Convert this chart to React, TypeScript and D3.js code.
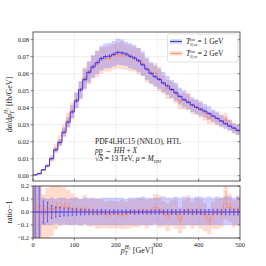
import { useEffect, useRef } from 'react'
import * as d3 from 'd3'

// bin lower edges (GeV), width 10
const binLow = [
  0, 10, 20, 30, 40, 50, 60, 70, 80, 90,
  100, 110, 120, 130, 140, 150, 160, 170, 180, 190,
  200, 210, 220, 230, 240, 250, 260, 270, 280, 290,
  300, 310, 320, 330, 340, 350, 360, 370, 380, 390,
  400, 410, 420, 430, 440, 450, 460, 470, 480, 490,
]
const binWidth = 10

// Tcut = 1 GeV central values [fb/GeV]
const blueValues = [
  0.0005, 0.0012, 0.0035, 0.0058, 0.0100, 0.0152, 0.0195, 0.0255, 0.0315, 0.0375,
  0.0440, 0.0505, 0.0565, 0.0608, 0.0640, 0.0665, 0.0688, 0.0700, 0.0703, 0.0714,
  0.0725, 0.0722, 0.0716, 0.0702, 0.0692, 0.0676, 0.0652, 0.0627, 0.0602, 0.0582,
  0.0566, 0.0545, 0.0528, 0.0507, 0.0488, 0.0466, 0.0447, 0.0432, 0.0416, 0.0402,
  0.0391, 0.0380, 0.0366, 0.0351, 0.0337, 0.0322, 0.0306, 0.0292, 0.0280, 0.0266,
]
// relative stat. errors (1 GeV)
const blueStat = [
  0.5, 0.3, 0.085, 0.075, 0.05, 0.04, 0.035, 0.03, 0.03, 0.025,
  0.025, 0.022, 0.02, 0.02, 0.02, 0.018, 0.018, 0.016, 0.016, 0.016,
  0.015, 0.015, 0.015, 0.015, 0.015, 0.015, 0.015, 0.015, 0.016, 0.016,
  0.016, 0.016, 0.017, 0.017, 0.017, 0.018, 0.018, 0.018, 0.018, 0.019,
  0.019, 0.019, 0.02, 0.02, 0.02, 0.02, 0.021, 0.021, 0.022, 0.022,
]
// relative scale band (1 GeV)
const blueUp = [
  0.6, 0.45, 0.11, 0.1, 0.11, 0.1, 0.11, 0.11, 0.1, 0.11,
  0.11, 0.1, 0.11, 0.11, 0.11, 0.1, 0.11, 0.11, 0.11, 0.11,
  0.11, 0.11, 0.1, 0.11, 0.11, 0.11, 0.12, 0.11, 0.11, 0.11,
  0.11, 0.12, 0.11, 0.11, 0.12, 0.11, 0.12, 0.11, 0.11, 0.12,
  0.12, 0.11, 0.12, 0.11, 0.12, 0.11, 0.12, 0.12, 0.11, 0.12,
]
const blueDown = [
  0.6, 0.45, 0.1, 0.1, 0.1, 0.09, 0.1, 0.1, 0.1, 0.1,
  0.1, 0.1, 0.1, 0.1, 0.1, 0.1, 0.1, 0.1, 0.1, 0.1,
  0.1, 0.1, 0.1, 0.1, 0.1, 0.1, 0.1, 0.1, 0.1, 0.1,
  0.1, 0.1, 0.1, 0.1, 0.1, 0.1, 0.1, 0.1, 0.1, 0.1,
  0.1, 0.1, 0.1, 0.1, 0.1, 0.1, 0.1, 0.1, 0.1, 0.1,
]

// Tcut = 2 GeV, ratio to the 1 GeV result minus one
const orangeRatio = [
  0.0, 0.05, -0.02, 0.03, 0.02, 0.03, 0.04, 0.045, 0.035, 0.02,
  0.015, 0.01, 0.02, 0.005, 0.0, -0.01, 0.005, -0.015, -0.02, -0.005,
  -0.02, -0.025, -0.01, 0.005, -0.005, 0.0, 0.01, -0.005, 0.005, 0.035,
  0.01, -0.005, -0.03, 0.0, -0.01, -0.06, 0.0, 0.01, -0.01, 0.005,
  -0.01, -0.02, -0.07, -0.01, 0.0, -0.01, 0.07, 0.035, 0.0, 0.015,
]
const orangeStat = [
  0.5, 0.35, 0.08, 0.06, 0.05, 0.04, 0.035, 0.03, 0.025, 0.022,
  0.02, 0.02, 0.018, 0.018, 0.016, 0.016, 0.015, 0.015, 0.015, 0.015,
  0.015, 0.015, 0.015, 0.015, 0.016, 0.016, 0.016, 0.016, 0.017, 0.02,
  0.017, 0.017, 0.018, 0.018, 0.018, 0.025, 0.018, 0.018, 0.02, 0.02,
  0.02, 0.02, 0.03, 0.02, 0.02, 0.02, 0.08, 0.03, 0.022, 0.022,
]
const orangeUp = [
  0.6, 0.45, 0.16, 0.15, 0.2, 0.2, 0.17, 0.14, 0.13, 0.12,
  0.1, 0.09, 0.11, 0.09, 0.1, 0.12, 0.09, 0.1, 0.11, 0.09,
  0.1, 0.12, 0.09, 0.09, 0.1, 0.11, 0.09, 0.1, 0.09, 0.1,
  0.12, 0.09, 0.1, 0.09, 0.11, 0.1, 0.09, 0.12, 0.09, 0.1,
  0.11, 0.09, 0.1, 0.09, 0.1, 0.12, 0.13, 0.1, 0.09, 0.11,
]
const orangeDown = [
  0.6, 0.45, 0.25, 0.24, 0.2, 0.16, 0.14, 0.13, 0.13, 0.12,
  0.11, 0.12, 0.11, 0.12, 0.11, 0.12, 0.13, 0.11, 0.11, 0.12,
  0.11, 0.11, 0.12, 0.13, 0.11, 0.12, 0.11, 0.12, 0.11, 0.12,
  0.13, 0.11, 0.12, 0.11, 0.12, 0.11, 0.13, 0.11, 0.12, 0.11,
  0.12, 0.13, 0.11, 0.12, 0.13, 0.11, 0.12, 0.11, 0.12, 0.11,
]

const xTicks = [0, 100, 200, 300, 400, 500]
const yTicks = [0.0, 0.01, 0.02, 0.03, 0.04, 0.05, 0.06, 0.07, 0.08]
const ratioTicks = [-0.2, -0.1, 0.0, 0.1, 0.2]
const legendLabels = ['1 GeV', '2 GeV']

const BLUE = '#2b2bff'
const ORANGE = '#ff8a5c'
const BLUE_FILL = 'rgba(90,90,255,0.3)'
const ORANGE_FILL = 'rgba(255,140,90,0.3)'
const FONT = '"Liberation Serif", serif'

export default function App() {
  const svgRef = useRef<SVGSVGElement>(null)

  useEffect(() => {
    if (!svgRef.current) return
    const svg = d3.select(svgRef.current)
    svg.selectAll('*').remove()

    const left = 33, right = 240
    const top = 32, mainBottom = 181
    const rTop = 186, rBottom = 238

    const x = d3.scaleLinear().domain([0, 500]).range([left, right])
    const y = d3.scaleLinear().domain([-0.0031, 0.0845]).range([mainBottom, top])
    const yr = d3.scaleLinear().domain([-0.2, 0.2]).range([rBottom, rTop])

    const bins = binLow.map((lo, i) => {
      const b = blueValues[i]
      const o = b * (1 + orangeRatio[i])
      return {
        lo, hi: lo + binWidth, mid: lo + binWidth / 2,
        b, bUp: b * (1 + blueUp[i]), bDn: b * (1 - blueDown[i]), bErr: b * blueStat[i],
        o, oUp: o * (1 + orangeUp[i]), oDn: o * (1 - orangeDown[i]), oErr: o * orangeStat[i],
      }
    })
    type Bin = typeof bins[0]
    // repeat last bin at the right edge so step shapes close at 500
    const stepPts = [...bins, { ...bins[bins.length - 1], lo: bins[bins.length - 1].hi }]

    const defs = svg.append('defs')
    defs.append('clipPath').attr('id', 'clipMain').append('rect')
      .attr('x', left).attr('y', top).attr('width', right - left).attr('height', mainBottom - top)
    defs.append('clipPath').attr('id', 'clipRatio').append('rect')
      .attr('x', left).attr('y', rTop).attr('width', right - left).attr('height', rBottom - rTop)

    // grids
    const grid = (yScale: d3.ScaleLinear<number, number>, ticks: number[], y0: number, y1: number) => {
      const g = svg.append('g')
      xTicks.slice(1, -1).forEach(t => {
        g.append('line').attr('x1', x(t)).attr('x2', x(t)).attr('y1', y0).attr('y2', y1)
          .attr('stroke', '#e4e4e4').attr('stroke-width', 0.6)
      })
      ticks.forEach(t => {
        g.append('line').attr('x1', left).attr('x2', right).attr('y1', yScale(t)).attr('y2', yScale(t))
          .attr('stroke', '#e4e4e4').attr('stroke-width', 0.6)
      })
    }
    grid(y, yTicks, top, mainBottom)
    grid(yr, ratioTicks, rTop, rBottom)

    const stepLine = (acc: (d: Bin) => number, ys: d3.ScaleLinear<number, number>) =>
      d3.line<Bin>().curve(d3.curveStepAfter).x(d => x(d.lo)).y(d => ys(acc(d)))(stepPts)
    const stepArea = (lo: (d: Bin) => number, hi: (d: Bin) => number, ys: d3.ScaleLinear<number, number>) =>
      d3.area<Bin>().curve(d3.curveStepAfter).x(d => x(d.lo)).y0(d => ys(lo(d))).y1(d => ys(hi(d)))(stepPts)

    // ---------- main panel ----------
    const main = svg.append('g').attr('clip-path', 'url(#clipMain)')
    main.append('path').attr('d', stepArea(d => d.oDn, d => d.oUp, y)).attr('fill', ORANGE_FILL)
    main.append('path').attr('d', stepArea(d => d.bDn, d => d.bUp, y)).attr('fill', BLUE_FILL)

    main.append('path').attr('d', stepLine(d => d.o, y)).attr('fill', 'none')
      .attr('stroke', ORANGE).attr('stroke-width', 0.8)
    main.selectAll('line.oe').data(bins).join('line')
      .attr('x1', d => x(d.mid) + 0.6).attr('x2', d => x(d.mid) + 0.6)
      .attr('y1', d => y(d.o - d.oErr)).attr('y2', d => y(d.o + d.oErr))
      .attr('stroke', ORANGE).attr('stroke-width', 0.6)
    main.append('path').attr('d', stepLine(d => d.b, y)).attr('fill', 'none')
      .attr('stroke', BLUE).attr('stroke-width', 0.9)
    main.selectAll('line.be').data(bins).join('line')
      .attr('x1', d => x(d.mid)).attr('x2', d => x(d.mid))
      .attr('y1', d => y(d.b - d.bErr)).attr('y2', d => y(d.b + d.bErr))
      .attr('stroke', BLUE).attr('stroke-width', 0.6)

    // ---------- ratio panel ----------
    const rat = svg.append('g').attr('clip-path', 'url(#clipRatio)')
    rat.append('path').attr('d', stepArea(d => d.oDn / d.b - 1, d => d.oUp / d.b - 1, yr)).attr('fill', ORANGE_FILL)
    rat.append('path').attr('d', stepArea(d => d.bDn / d.b - 1, d => d.bUp / d.b - 1, yr)).attr('fill', BLUE_FILL)

    rat.append('path').attr('d', stepLine(d => d.o / d.b - 1, yr)).attr('fill', 'none')
      .attr('stroke', ORANGE).attr('stroke-width', 0.7)
    const errBars = (g: d3.Selection<SVGGElement, unknown, null, undefined>, cls: string,
      cx: (d: Bin) => number, c: (d: Bin) => number, e: (d: Bin) => number, color: string) => {
      const sel = g.selectAll(`g.${cls}`).data(bins).join('g')
      sel.append('line').attr('x1', cx).attr('x2', cx)
        .attr('y1', d => yr(c(d) - e(d))).attr('y2', d => yr(c(d) + e(d)))
        .attr('stroke', color).attr('stroke-width', 0.6)
      ;[-1, 1].forEach(s => {
        sel.append('line').attr('x1', d => cx(d) - 0.8).attr('x2', d => cx(d) + 0.8)
          .attr('y1', d => yr(c(d) + s * e(d))).attr('y2', d => yr(c(d) + s * e(d)))
          .attr('stroke', color).attr('stroke-width', 0.6)
      })
    }
    errBars(rat, 'oe', d => x(d.mid) + 0.8, d => d.o / d.b - 1, d => d.oErr / d.b, ORANGE)
    rat.append('line').attr('x1', left).attr('x2', right).attr('y1', yr(0)).attr('y2', yr(0))
      .attr('stroke', BLUE).attr('stroke-width', 0.9)
    errBars(rat, 'be', d => x(d.mid), () => 0, d => d.bErr / d.b, BLUE)

    // ---------- frames, ticks, labels ----------
    const frame = (y0: number, y1: number) => {
      svg.append('rect').attr('x', left).attr('y', y0).attr('width', right - left).attr('height', y1 - y0)
        .attr('fill', 'none').attr('stroke', '#333').attr('stroke-width', 0.8)
    }
    frame(top, mainBottom)
    frame(rTop, rBottom)

    const tickText = (tx: number, ty: number, s: string, anchor: string) =>
      svg.append('text').attr('x', tx).attr('y', ty).attr('text-anchor', anchor)
        .attr('font-family', FONT).attr('font-size', 6.5).attr('fill', '#222').text(s)

    yTicks.forEach(t => {
      svg.append('line').attr('x1', left - 2.5).attr('x2', left).attr('y1', y(t)).attr('y2', y(t)).attr('stroke', '#333').attr('stroke-width', 0.6)
      svg.append('line').attr('x1', right - 2.5).attr('x2', right).attr('y1', y(t)).attr('y2', y(t)).attr('stroke', '#333').attr('stroke-width', 0.6)
      tickText(left - 4, y(t) + 2.2, d3.format('.2f')(t), 'end')
    })
    ratioTicks.forEach(t => {
      svg.append('line').attr('x1', left - 2.5).attr('x2', left).attr('y1', yr(t)).attr('y2', yr(t)).attr('stroke', '#333').attr('stroke-width', 0.6)
      svg.append('line').attr('x1', right - 2.5).attr('x2', right).attr('y1', yr(t)).attr('y2', yr(t)).attr('stroke', '#333').attr('stroke-width', 0.6)
      tickText(left - 4, yr(t) + 2.2, d3.format('.1f')(t).replace('-', '−'), 'end')
    })
    xTicks.forEach(t => {
      svg.append('line').attr('x1', x(t)).attr('x2', x(t)).attr('y1', rBottom).attr('y2', rBottom + 2.5).attr('stroke', '#333').attr('stroke-width', 0.6)
      svg.append('line').attr('x1', x(t)).attr('x2', x(t)).attr('y1', mainBottom).attr('y2', mainBottom - 2.5).attr('stroke', '#333').attr('stroke-width', 0.6)
      tickText(x(t), rBottom + 8.5, String(t), 'middle')
    })

    // x label
    const xl = svg.append('text').attr('x', 137).attr('y', 253).attr('text-anchor', 'middle')
      .attr('font-family', FONT).attr('font-size', 8).attr('fill', '#222')
    xl.append('tspan').attr('font-style', 'italic').text('p')
    xl.append('tspan').attr('font-size', 5.5).attr('dy', 2).attr('font-style', 'italic').text('T')
    xl.append('tspan').attr('font-size', 5.5).attr('dy', -6.5).attr('dx', -3).attr('font-style', 'italic').text('H')
    xl.append('tspan').attr('font-size', 4).attr('dy', 1.5).text('1')
    xl.append('tspan').attr('dy', 3).text(' [GeV]')

    // y label
    const yl = svg.append('text').attr('transform', `translate(12,${(top + mainBottom) / 2 - 2}) rotate(-90)`)
      .attr('text-anchor', 'middle').attr('font-family', FONT).attr('font-size', 8).attr('fill', '#222')
    yl.append('tspan').text('d')
    yl.append('tspan').attr('font-style', 'italic').text('σ')
    yl.append('tspan').text('/d')
    yl.append('tspan').attr('font-style', 'italic').text('p')
    yl.append('tspan').attr('font-size', 5.5).attr('dy', 2).attr('font-style', 'italic').text('T')
    yl.append('tspan').attr('font-size', 5.5).attr('dy', -6.5).attr('dx', -3).attr('font-style', 'italic').text('H')
    yl.append('tspan').attr('font-size', 4).attr('dy', 1.5).text('1')
    yl.append('tspan').attr('dy', 3).text(' [fb/GeV]')

    svg.append('text').attr('transform', `translate(12,${(rTop + rBottom) / 2}) rotate(-90)`)
      .attr('text-anchor', 'middle').attr('font-family', FONT).attr('font-size', 8).attr('fill', '#222')
      .text('ratio−1')

    // annotation
    const ann = svg.append('g').attr('font-family', FONT).attr('font-size', 7.5).attr('fill', '#222')
    ann.append('text').attr('x', 95).attr('y', 144).text('PDF4LHC15 (NNLO), HTL')
    const l2 = ann.append('text').attr('x', 95).attr('y', 152.5)
    l2.append('tspan').attr('font-style', 'italic').text('pp')
    l2.append('tspan').text(' → ')
    l2.append('tspan').attr('font-style', 'italic').text('HH')
    l2.append('tspan').text(' + ')
    l2.append('tspan').attr('font-style', 'italic').text('X')
    const l3 = ann.append('text').attr('x', 95).attr('y', 161)
    l3.append('tspan').text('√')
    l3.append('tspan').attr('font-style', 'italic').attr('text-decoration', 'overline').text('S')
    l3.append('tspan').text(' = 13 TeV, ')
    l3.append('tspan').attr('font-style', 'italic').text('μ')
    l3.append('tspan').text(' = ')
    l3.append('tspan').attr('font-style', 'italic').text('M')
    l3.append('tspan').attr('font-size', 5).attr('dy', 1.5).attr('font-style', 'italic').text('HH')

    // legend
    const lg = svg.append('g')
    lg.append('rect').attr('x', 167.5).attr('y', 34).attr('width', 70.5).attr('height', 28).attr('rx', 2)
      .attr('fill', 'white').attr('fill-opacity', 0.85).attr('stroke', '#ccc').attr('stroke-width', 0.6)
    const legendItems = [
      { label: legendLabels[0], fill: BLUE_FILL, stroke: BLUE },
      { label: legendLabels[1], fill: ORANGE_FILL, stroke: ORANGE },
    ]
    legendItems.forEach((it, i) => {
      const cy = 41.5 + i * 12
      lg.append('rect').attr('x', 170).attr('y', cy - 2.2).attr('width', 12).attr('height', 4.4).attr('fill', it.fill)
      lg.append('line').attr('x1', 170).attr('x2', 182).attr('y1', cy).attr('y2', cy).attr('stroke', it.stroke).attr('stroke-width', 0.9)
      const t = lg.append('text').attr('x', 186).attr('y', cy + 2.5).attr('font-family', FONT).attr('font-size', 7.5).attr('fill', '#222')
      t.append('tspan').attr('font-style', 'italic').text('T')
      t.append('tspan').attr('font-size', 4.5).attr('dy', 2).attr('font-style', 'italic').text('0,re')
      t.append('tspan').attr('font-size', 4.5).attr('dy', -5.5).attr('dx', -8).text('cut')
      t.append('tspan').attr('dy', 3.5).attr('dx', 1).text(' = ' + it.label)
    })
  }, [])

  return (
    <svg ref={svgRef} width={266} height={266}
      style={{ position: 'absolute', left: 0, top: 0, background: 'white' }} />
  )
}
